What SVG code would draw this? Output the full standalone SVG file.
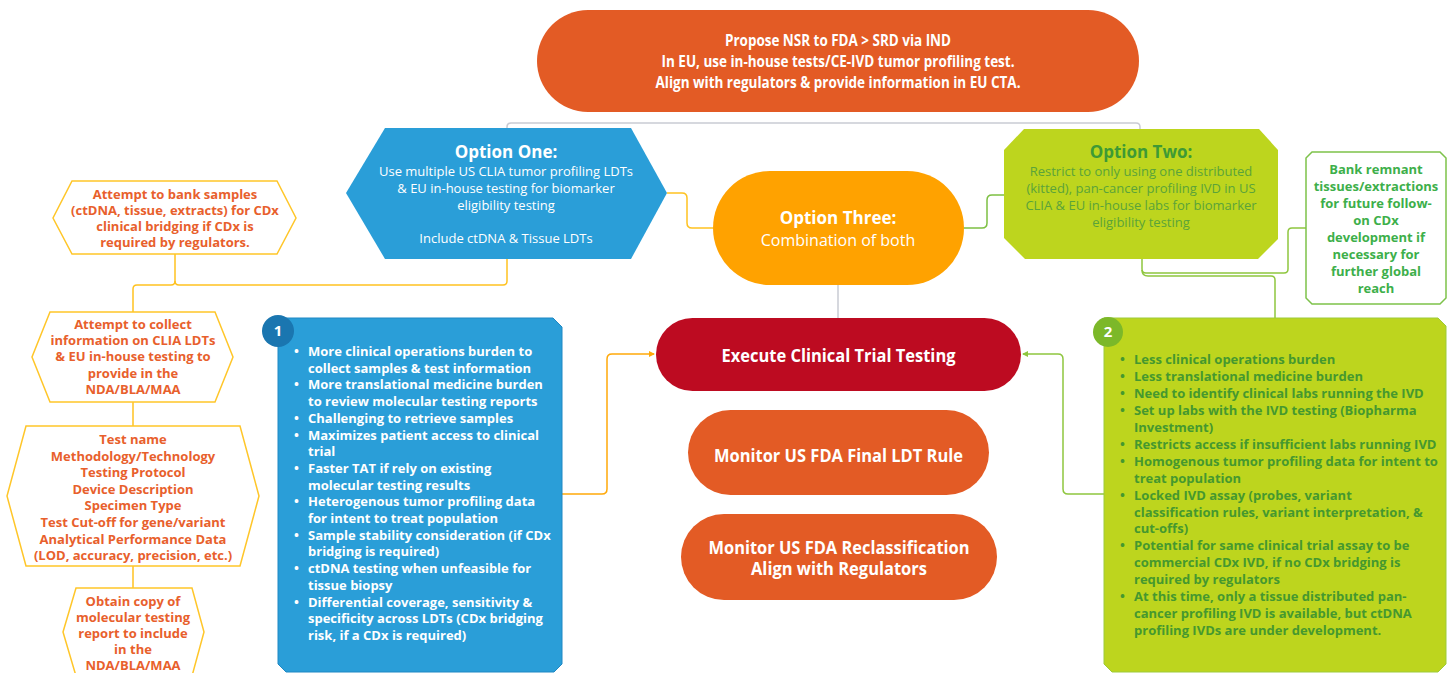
<svg xmlns="http://www.w3.org/2000/svg" width="1452" height="673" viewBox="0 0 1452 673">
  <defs>
    <style>
      text { font-family: "Open Sans", "Noto Sans", "Liberation Sans", sans-serif; }
      .conn { fill: none; stroke-width: 1.5; }
      .gray { stroke: #C9CBD3; }
      .yel { stroke: #FFC220; }
      .org { stroke: #FFA90A; }
      .grn { stroke: #7DC043; }
      .lime { stroke: #8FC63F; }
      .hexL { fill: #FFFFFF; stroke: #FFC629; stroke-width: 1.5; }
      .ltxt { font-size: 13px; font-weight: 700; fill: #E8602C; text-anchor: middle; }
      .pillTxt { font-size: 17px; font-weight: 700; fill: #FFFFFF; text-anchor: middle; }
      .topTxt { font-size: 16px; font-weight: 700; fill: #FFFFFF; text-anchor: middle; }
      .optTitle { font-size: 17px; font-weight: 700; text-anchor: middle; }
      .optBody { font-size: 13px; font-weight: 400; text-anchor: middle; }
      .optSub { font-size: 16px; font-weight: 400; text-anchor: middle; }
      .blueTxt { font-size: 13px; font-weight: 700; fill: #FFFFFF; }
      .greenTxt { font-size: 13px; font-weight: 700; fill: #45982F; }
      .bankTxt { font-size: 13px; font-weight: 700; fill: #3DAF4A; text-anchor: middle; }
      .numTxt { font-size: 15px; font-weight: 700; fill: #FFFFFF; text-anchor: middle; }
    </style>
    <marker id="arrOrg" viewBox="0 0 6 6" refX="5" refY="3" markerWidth="6" markerHeight="6" markerUnits="userSpaceOnUse" orient="auto">
      <path d="M0,0 L6,3 L0,6 Z" fill="#FFA90A"/>
    </marker>
    <marker id="arrGrn" viewBox="0 0 6 6" refX="5" refY="3" markerWidth="6" markerHeight="6" markerUnits="userSpaceOnUse" orient="auto">
      <path d="M0,0 L6,3 L0,6 Z" fill="#8FC63F"/>
    </marker>
  </defs>

  <rect width="1452" height="673" fill="#FFFFFF"/>

  <!-- connectors -->
  <g id="connectors">
    <path class="conn gray" d="M507,128 V127 Q507,123 511,123 H1136 Q1140,123 1140,127 V129"/>
    <path class="conn gray" d="M838,285 V318"/>
    <path class="conn yel" d="M667,193 H682 Q687,193 687,198 V223 Q687,228 692,228 H713"/>
    <path class="conn grn" d="M964,228 H982 Q987,228 987,223 V200 Q987,195 992,195 H1004"/>
    <path class="conn yel" d="M175,254 V281 Q175,285 179,285 H503 Q507,285 507,281 V259"/>
    <path class="conn yel" d="M175,281 Q175,285 171,285 H137 Q133,285 133,289 V312"/>
    <path class="conn yel" d="M133,402 V426"/>
    <path class="conn yel" d="M133,566 V588"/>
    <path class="conn org" d="M562,494 H602 Q607,494 607,489 V359 Q607,354 612,354 H654" marker-end="url(#arrOrg)"/>
    <path class="conn lime" d="M1104,494 H1068 Q1063,494 1063,489 V359 Q1063,354 1058,354 H1023" marker-end="url(#arrGrn)"/>
    <path class="conn lime" d="M1142,259 V269 Q1142,273 1146,273 H1284 Q1288,273 1288,269 V232 Q1288,228 1292,228 H1306"/>
    <path class="conn lime" d="M1142,270 Q1142,276 1148,276 H1271 Q1275,276 1275,280 V318"/>
  </g>

  <!-- top regulatory pathway -->
  <g id="node-propose">
    <rect x="537" y="10" width="602" height="102" rx="51" fill="#E35B25"/>
    <text class="topTxt" x="838" y="46" textLength="226" lengthAdjust="spacingAndGlyphs">Propose NSR to FDA &gt; SRD via IND</text>
    <text class="topTxt" x="838" y="67" textLength="353" lengthAdjust="spacingAndGlyphs">In EU, use in-house tests/CE-IVD tumor profiling test.</text>
    <text class="topTxt" x="838" y="88" textLength="365" lengthAdjust="spacingAndGlyphs">Align with regulators &amp; provide information in EU CTA.</text>
  </g>

  <!-- option one -->
  <g id="node-option-one">
    <path d="M385,128 H631 L667,193 L631,259 H385 L346,193 Z" fill="#2A9ED8"/>
    <text class="optTitle" x="506" y="158" fill="#FFFFFF">Option One:</text>
    <text class="optBody" x="506" y="176" fill="#FFFFFF">Use multiple US CLIA tumor profiling LDTs</text>
    <text class="optBody" x="506" y="193" fill="#FFFFFF">&amp; EU in-house testing for biomarker</text>
    <text class="optBody" x="506" y="210" fill="#FFFFFF">eligibility testing</text>
    <text class="optBody" x="506" y="243" fill="#FFFFFF">Include ctDNA &amp; Tissue LDTs</text>
  </g>

  <!-- option three -->
  <g id="node-option-three">
    <rect x="713" y="171" width="251" height="114" rx="57" fill="#FFA200"/>
    <text class="optTitle" x="838" y="224" fill="#FFFFFF">Option Three:</text>
    <text class="optSub" x="838" y="246" fill="#FFFFFF">Combination of both</text>
  </g>

  <!-- option two -->
  <g id="node-option-two">
    <path d="M1024,129 H1259 L1278,150 V239 L1258,259 H1025 L1004,238 V150 Z" fill="#BDD51E"/>
    <text class="optTitle" x="1141" y="158" fill="#3E9A35">Option Two:</text>
    <text class="optBody" x="1141" y="176" fill="#5AA33A">Restrict to only using one distributed</text>
    <text class="optBody" x="1141" y="193" fill="#5AA33A">(kitted), pan-cancer profiling IVD in US</text>
    <text class="optBody" x="1141" y="210" fill="#5AA33A">CLIA &amp; EU in-house labs for biomarker</text>
    <text class="optBody" x="1141" y="227" fill="#5AA33A">eligibility testing</text>
  </g>

  <!-- bank remnant tissues -->
  <g id="node-bank-remnant">
    <path d="M1312,152 H1440 L1446,158 V298 L1440,304 H1312 L1306,298 V158 Z" fill="#FFFFFF" stroke="#7DC24A" stroke-width="1.5"/>
    <text class="bankTxt" x="1376" y="174">Bank remnant</text>
    <text class="bankTxt" x="1376" y="191">tissues/extractions</text>
    <text class="bankTxt" x="1376" y="208">for future follow-</text>
    <text class="bankTxt" x="1376" y="225">on CDx</text>
    <text class="bankTxt" x="1376" y="242">development if</text>
    <text class="bankTxt" x="1376" y="259">necessary for</text>
    <text class="bankTxt" x="1376" y="276">further global</text>
    <text class="bankTxt" x="1376" y="293">reach</text>
  </g>

  <!-- left column: evidence to gather for option one -->
  <g id="node-bank-samples">
    <path class="hexL" d="M72,181 H277 L296,218 L277,254 H72 L53,218 Z"/>
    <text class="ltxt" x="175" y="199">Attempt to bank samples</text>
    <text class="ltxt" x="175" y="215">(ctDNA, tissue, extracts) for CDx</text>
    <text class="ltxt" x="175" y="231">clinical bridging if CDx is</text>
    <text class="ltxt" x="175" y="247">required by regulators.</text>
  </g>
  <g id="node-collect-info">
    <path class="hexL" d="M50,312 H215 L233,357 L215,402 H50 L32,357 Z"/>
    <text class="ltxt" x="133" y="329">Attempt to collect</text>
    <text class="ltxt" x="133" y="345">information on CLIA LDTs</text>
    <text class="ltxt" x="133" y="361">&amp; EU in-house testing to</text>
    <text class="ltxt" x="133" y="378">provide in the</text>
    <text class="ltxt" x="133" y="394">NDA/BLA/MAA</text>
  </g>
  <g id="node-test-details">
    <path class="hexL" d="M26,426 H240 L259,496 L240,566 H26 L7,496 Z"/>
    <text class="ltxt" x="133" y="444">Test name</text>
    <text class="ltxt" x="133" y="460.6">Methodology/Technology</text>
    <text class="ltxt" x="133" y="477.2">Testing Protocol</text>
    <text class="ltxt" x="133" y="493.8">Device Description</text>
    <text class="ltxt" x="133" y="510.4">Specimen Type</text>
    <text class="ltxt" x="133" y="527">Test Cut-off for gene/variant</text>
    <text class="ltxt" x="133" y="543.6">Analytical Performance Data</text>
    <text class="ltxt" x="133" y="560.2">(LOD, accuracy, precision, etc.)</text>
  </g>
  <g id="node-report-copy">
    <path class="hexL" d="M76,588 H192 L204,632 L192,676 H76 L63,632 Z"/>
    <text class="ltxt" x="133" y="606">Obtain copy of</text>
    <text class="ltxt" x="133" y="622">molecular testing</text>
    <text class="ltxt" x="133" y="638">report to include</text>
    <text class="ltxt" x="133" y="654">in the</text>
    <text class="ltxt" x="133" y="670">NDA/BLA/MAA</text>
  </g>

  <!-- option one considerations -->
  <g id="node-considerations-one">
    <path d="M278,318 H553 L562,327 V664 L554,672 H286 L278,664 Z" fill="#2A9ED8" stroke="#1E88C4" stroke-width="1"/>
    <circle cx="278" cy="331" r="16" fill="#1A76B0"/>
    <text class="numTxt" x="278" y="336">1</text>
    <g class="blueTxt">
      <text x="294" y="356">•</text><text x="308" y="356">More clinical operations burden to</text>
      <text x="308" y="372.7">collect samples &amp; test information</text>
      <text x="294" y="389.4">•</text><text x="308" y="389.4">More translational medicine burden</text>
      <text x="308" y="406.1">to review molecular testing reports</text>
      <text x="294" y="422.8">•</text><text x="308" y="422.8">Challenging to retrieve samples</text>
      <text x="294" y="439.5">•</text><text x="308" y="439.5">Maximizes patient access to clinical</text>
      <text x="308" y="456.2">trial</text>
      <text x="294" y="472.9">•</text><text x="308" y="472.9">Faster TAT if rely on existing</text>
      <text x="308" y="489.6">molecular testing results</text>
      <text x="294" y="506.3">•</text><text x="308" y="506.3">Heterogenous tumor profiling data</text>
      <text x="308" y="523">for intent to treat population</text>
      <text x="294" y="539.7">•</text><text x="308" y="539.7">Sample stability consideration (if CDx</text>
      <text x="308" y="556.4">bridging is required)</text>
      <text x="294" y="573.1">•</text><text x="308" y="573.1">ctDNA testing when unfeasible for</text>
      <text x="308" y="589.8">tissue biopsy</text>
      <text x="294" y="606.5">•</text><text x="308" y="606.5">Differential coverage, sensitivity &amp;</text>
      <text x="308" y="623.2">specificity across LDTs (CDx bridging</text>
      <text x="308" y="639.9">risk, if a CDx is required)</text>
    </g>
  </g>

  <!-- central actions -->
  <g id="node-execute">
    <rect x="656" y="318" width="365" height="73" rx="36.5" fill="#BD0B21"/>
    <text class="pillTxt" x="838.5" y="362" textLength="234" lengthAdjust="spacingAndGlyphs">Execute Clinical Trial Testing</text>
  </g>
  <g id="node-monitor-ldt">
    <rect x="688" y="410" width="301" height="85" rx="42.5" fill="#E35B25"/>
    <text class="pillTxt" x="838.5" y="462" textLength="249" lengthAdjust="spacingAndGlyphs">Monitor US FDA Final LDT Rule</text>
  </g>
  <g id="node-monitor-reclass">
    <rect x="681" y="514" width="316" height="86" rx="43" fill="#E35B25"/>
    <text class="pillTxt" x="839" y="554" textLength="261" lengthAdjust="spacingAndGlyphs">Monitor US FDA Reclassification</text>
    <text class="pillTxt" x="839" y="575" textLength="176" lengthAdjust="spacingAndGlyphs">Align with Regulators</text>
  </g>

  <!-- option two considerations -->
  <g id="node-considerations-two">
    <path d="M1104,318 H1438 L1446,326 V664 L1438,672 H1112 L1104,664 Z" fill="#BDD51E" stroke="#9DCB3A" stroke-width="1"/>
    <circle cx="1108" cy="332" r="15" fill="#7CB829"/>
    <text class="numTxt" x="1108" y="337">2</text>
    <g class="greenTxt">
      <text x="1120" y="364">•</text><text x="1134" y="364">Less clinical operations burden</text>
      <text x="1120" y="380.9">•</text><text x="1134" y="380.9">Less translational medicine burden</text>
      <text x="1120" y="397.9">•</text><text x="1134" y="397.9">Need to identify clinical labs running the IVD</text>
      <text x="1120" y="414.8">•</text><text x="1134" y="414.8">Set up labs with the IVD testing (Biopharma</text>
      <text x="1134" y="431.8">Investment)</text>
      <text x="1120" y="448.7">•</text><text x="1134" y="448.7">Restricts access if insufficient labs running IVD</text>
      <text x="1120" y="465.6">•</text><text x="1134" y="465.6">Homogenous tumor profiling data for intent to</text>
      <text x="1134" y="482.6">treat population</text>
      <text x="1120" y="499.5">•</text><text x="1134" y="499.5">Locked IVD assay (probes, variant</text>
      <text x="1134" y="516.5">classification rules, variant interpretation, &amp;</text>
      <text x="1134" y="533.4">cut-offs)</text>
      <text x="1120" y="550.3">•</text><text x="1134" y="550.3">Potential for same clinical trial assay to be</text>
      <text x="1134" y="567.3">commercial CDx IVD, if no CDx bridging is</text>
      <text x="1134" y="584.2">required by regulators</text>
      <text x="1120" y="601.2">•</text><text x="1134" y="601.2">At this time, only a tissue distributed pan-</text>
      <text x="1134" y="618.1">cancer profiling IVD is available, but ctDNA</text>
      <text x="1134" y="635">profiling IVDs are under development.</text>
    </g>
  </g>
</svg>
